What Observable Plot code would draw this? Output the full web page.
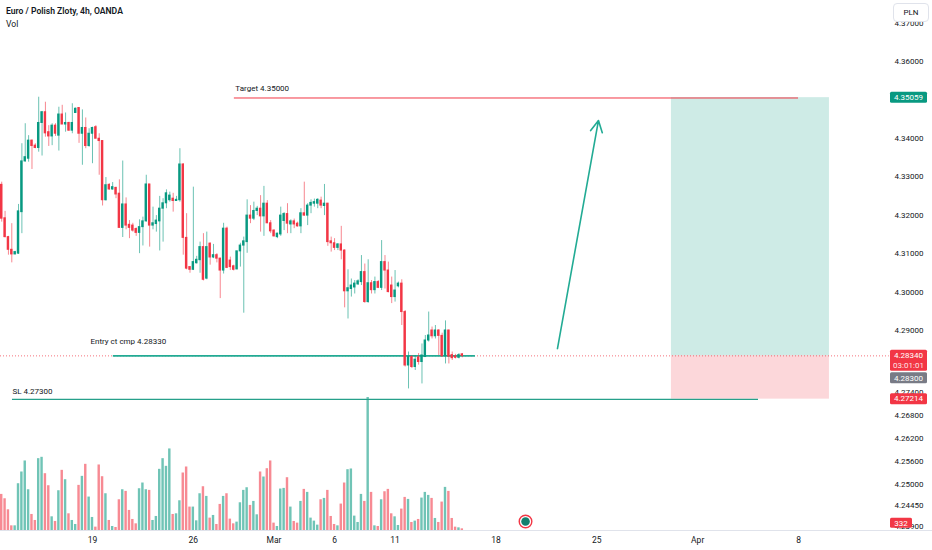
<!DOCTYPE html>
<html><head><meta charset="utf-8">
<script src="https://cdn.jsdelivr.net/npm/d3@7"></script>
<script src="https://cdn.jsdelivr.net/npm/@observablehq/plot@0.6"></script>
<style>
body{margin:0;background:#fff;font-family:Roboto,"Noto Sans",sans-serif;}
#wrap{position:relative;width:932px;height:550px;overflow:hidden;background:#fff;}
#wrap svg{position:absolute;left:0;top:0;}
.t1{position:absolute;left:6px;top:6px;font-size:8.6px;font-weight:600;color:#131722;}
.t2{position:absolute;left:6px;top:19px;font-size:8.6px;color:#131722;}
.sep{position:absolute;left:0;top:530px;width:932px;height:1px;background:#e0e3eb;}
.pln{position:absolute;left:893px;top:3px;width:36px;height:19px;box-sizing:border-box;border:1px solid #e0e3eb;border-radius:4px;background:#fff;font-size:8px;color:#131722;text-align:center;line-height:17px;}
</style></head><body><div id="wrap"></div>
<script>
// ---- data (4h bars, index 0 = Feb 19 00:00) ----
const firstIndex = -27;
const opens = [
4.3279,4.3192,4.3143,4.3110,4.3098,4.3100,4.3208,4.3340,4.3347,4.3394,
4.3381,4.3375,4.3440,4.3468,4.3416,4.3405,4.3433,4.3407,4.3462,4.3436,
4.3440,4.3420,4.3466,4.3479,4.3412,4.3427,4.3380,4.3412,4.3429,4.3399,
4.3393,4.3239,4.3279,4.3267,4.3271,4.3256,4.3167,4.3228,4.3175,4.3173,
4.3164,4.3154,4.3169,4.3184,4.3280,4.3173,4.3177,4.3184,4.3217,4.3231,
4.3239,4.3243,4.3237,4.3239,4.3332,4.3141,4.3065,4.3058,4.3075,4.3083,
4.3117,4.3035,4.3126,4.3090,4.3096,4.3087,4.3056,4.3165,4.3082,4.3067,
4.3059,4.3106,4.3121,4.3130,4.3199,4.3191,4.3211,4.3217,4.3197,4.3230,
4.3179,4.3160,4.3143,4.3150,4.3185,4.3203,4.3176,4.3184,4.3178,4.3171,
4.3205,4.3199,4.3225,4.3230,4.3230,4.3238,4.3224,4.3230,4.3132,4.3127,
4.3115,4.3124,4.3108,4.3002,4.3008,4.3012,4.3020,4.3026,4.3052,4.2974,
4.3023,4.3005,4.3026,4.3011,4.3078,4.3056,4.3017,4.2987,4.3015,4.3022,
4.2948,4.2809,4.2831,4.2805,4.2830,4.2818,4.2831,4.2874,4.2900,4.2885,
4.2900,4.2886,4.2833,4.2900,4.2836,4.2833,4.2829,4.2838];
const highs = [
4.3286,4.3210,4.3145,4.3178,4.3106,4.3228,4.3386,4.3438,4.3407,4.3396,
4.3386,4.3507,4.3470,4.3494,4.3433,4.3438,4.3438,4.3481,4.3486,4.3466,
4.3442,4.3490,4.3479,4.3479,4.3474,4.3453,4.3425,4.3429,4.3433,4.3412,
4.3394,4.3298,4.3282,4.3285,4.3273,4.3292,4.3341,4.3245,4.3186,4.3179,
4.3167,4.3188,4.3195,4.3304,4.3280,4.3221,4.3199,4.3249,4.3243,4.3266,
4.3260,4.3257,4.3249,4.3373,4.3334,4.3204,4.3066,4.3273,4.3093,4.3130,
4.3152,4.3156,4.3128,4.3124,4.3100,4.3088,4.3179,4.3169,4.3091,4.3070,
4.3106,4.3127,4.3143,4.3240,4.3225,4.3234,4.3223,4.3251,4.3275,4.3238,
4.3186,4.3162,4.3153,4.3221,4.3207,4.3230,4.3188,4.3190,4.3182,4.3217,
4.3286,4.3230,4.3240,4.3242,4.3243,4.3247,4.3280,4.3231,4.3143,4.3139,
4.3126,4.3171,4.3110,4.3058,4.3034,4.3030,4.3032,4.3095,4.3073,4.3084,
4.3030,4.3039,4.3030,4.3134,4.3095,4.3078,4.3039,4.3056,4.3026,4.3032,
4.2952,4.2844,4.2835,4.2835,4.2840,4.2865,4.2887,4.2948,4.2909,4.2913,
4.2902,4.2893,4.2925,4.2901,4.2844,4.2838,4.2840,4.2840];
const lows = [
4.3182,4.3141,4.3096,4.3076,4.3097,4.3098,4.3152,4.3338,4.3338,4.3319,
4.3373,4.3364,4.3354,4.3403,4.3379,4.3381,4.3405,4.3367,4.3436,4.3416,
4.3418,4.3412,4.3466,4.3387,4.3330,4.3373,4.3377,4.3334,4.3399,4.3304,
4.3224,4.3237,4.3265,4.3265,4.3243,4.3167,4.3142,4.3162,4.3139,4.3156,
4.3145,4.3100,4.3120,4.3182,4.3117,4.3162,4.3156,4.3107,4.3130,4.3217,
4.3234,4.3208,4.3237,4.3234,4.3096,4.3058,4.3049,4.3056,4.3073,4.3049,
4.3029,4.3032,4.3070,4.3087,4.3076,4.2983,4.3047,4.3061,4.3056,4.3055,
4.3058,4.3065,4.2945,4.3101,4.3178,4.3186,4.3199,4.3156,4.3145,4.3178,
4.3152,4.3143,4.3139,4.3145,4.3160,4.3152,4.3152,4.3165,4.3169,4.3152,
4.3197,4.3173,4.3204,4.3221,4.3217,4.3217,4.3199,4.3119,4.3104,4.3108,
4.3108,4.3084,4.2959,4.2930,4.2987,4.2995,4.3017,4.3017,4.2971,4.2971,
4.2995,4.2995,4.3009,4.3004,4.3008,4.2998,4.2970,4.2974,4.3011,4.2913,
4.2805,4.2748,4.2801,4.2796,4.2810,4.2761,4.2831,4.2870,4.2878,4.2878,
4.2835,4.2830,4.2813,4.2813,4.2822,4.2826,4.2826,4.2829];
const closes = [
4.3191,4.3143,4.3110,4.3098,4.3104,4.3210,4.3340,4.3351,4.3394,4.3380,
4.3375,4.3440,4.3468,4.3413,4.3405,4.3433,4.3412,4.3462,4.3436,4.3440,
4.3420,4.3440,4.3477,4.3412,4.3427,4.3380,4.3412,4.3427,4.3399,4.3393,
4.3239,4.3278,4.3267,4.3273,4.3254,4.3167,4.3228,4.3173,4.3167,4.3160,
4.3154,4.3169,4.3184,4.3280,4.3173,4.3179,4.3186,4.3217,4.3231,4.3257,
4.3251,4.3237,4.3240,4.3332,4.3141,4.3061,4.3058,4.3078,4.3084,4.3117,
4.3032,4.3117,4.3090,4.3096,4.3087,4.3056,4.3165,4.3063,4.3065,4.3058,
4.3106,4.3121,4.3132,4.3199,4.3191,4.3211,4.3217,4.3197,4.3230,4.3179,
4.3158,4.3145,4.3152,4.3199,4.3203,4.3178,4.3184,4.3176,4.3171,4.3205,
4.3199,4.3225,4.3232,4.3234,4.3240,4.3225,4.3230,4.3130,4.3127,4.3115,
4.3124,4.3108,4.3002,4.3010,4.3017,4.3022,4.3028,4.3052,4.2974,4.3023,
4.3005,4.3026,4.3011,4.3078,4.3056,4.3000,4.2987,4.3004,4.3022,4.2948,
4.2809,4.2831,4.2805,4.2824,4.2818,4.2835,4.2874,4.2887,4.2885,4.2900,
4.2886,4.2833,4.2900,4.2832,4.2828,4.2829,4.2836,4.2834];
const volumes = [
7200,6330,4130,930,930,9330,11670,13870,8130,3200,
2000,14330,14600,11330,8930,2730,1800,7930,12000,10130,
3330,2000,1200,9000,10800,13200,6670,2600,670,13070,
10730,7330,2000,800,600,6130,8130,7800,4000,2200,
1330,8330,9470,8130,8000,2000,2800,12200,14330,12800,
16270,3200,3330,5930,11470,12670,4670,4670,1930,7330,
8730,6800,2470,3000,1200,5200,6800,7330,2270,1330,
1670,5530,8000,8530,5000,5800,3130,11670,10670,12330,
13870,1470,800,8270,8400,10530,4670,1800,1470,5800,
8200,7600,2470,1870,1070,6130,6400,8000,2800,1200,
930,5270,9470,12130,12270,2870,1600,7200,5800,26530,
7600,930,800,6130,7730,8200,3330,2730,1000,4270,
6600,6200,1600,1870,2200,6470,7600,7000,6400,2400,
1600,5670,8600,7800,2400,670,530,332];

const timeTicks = [0,30,54,72,90,120,150,180,210];
const timeLabels = ["19","26","Mar","6","11","18","25","Apr","8"];
const priceTicks = [4.37,4.36,4.34,4.33,4.32,4.31,4.30,4.29,4.274,4.268,4.262,4.256,4.25,4.2445,4.239];

// drawings
const targetPrice = 4.3505, targetFrom = 42.2, targetTo = 210;
const entryPrice = 4.2834, entryFrom = 6.2, entryTo = 113.9;
const slPrice = 4.2721, slFrom = -23.8, slTo = 198.1;
const posFrom = 172.2, posTo = 219.2, posTarget = 4.35059, posEntry = 4.2834, posStop = 4.27214;
const arrowFrom = [138.3, 4.2853], arrowTo = [150.5, 4.34465];
const eventIndex = 128.8, eventLevel = 4.2403;
const lastPrice = 4.28340, bidPrice = 4.28300, countdown = "03:01:01";
const targetText = "Target 4.35000", targetTextAt = 42.5;
const entryText = "Entry ct cmp 4.28330", entryTextAt = -0.6;
const slText = "SL 4.27300", slTextAt = -23.8;

// ---- build ----
const candles = opens.map((o, j) => ({i: firstIndex + j, o, h: highs[j], l: lows[j], c: closes[j], v: volumes[j]}));
const up = "#089981", down = "#f23645";
const col = d => d.c >= d.o ? up : down;
const W = 932, H = 550;
const xDomain = [-27.36, 227.84];
const yDomain = [4.23796, 4.37587];
const rightEdgeIndex = 237;

const wrap = document.getElementById("wrap");

const volPlot = Plot.plot({
  width: W, height: H, marginTop: 397, marginBottom: 20, marginLeft: 0, marginRight: 74,
  style: {background: "transparent"},
  x: {domain: xDomain, axis: null},
  y: {domain: [0, d3.max(volumes)], axis: null},
  marks: [
    Plot.rect(candles, {x1: d => d.i - 0.36, x2: d => d.i + 0.36, y1: 0, y2: "v", fill: col, fillOpacity: 0.58})
  ]
});
wrap.appendChild(volPlot);

const txt = {textAnchor: "start", fontSize: 8, fill: "#131722"};
const pricePlot = Plot.plot({
  width: W, height: H, marginTop: 0, marginBottom: 20, marginLeft: 0, marginRight: 74,
  style: {background: "transparent", fontFamily: "Roboto, sans-serif"},
  x: {domain: xDomain},
  y: {domain: yDomain},
  marks: [
    Plot.rect([{a: posFrom, b: posTo, p1: posEntry, p2: posTarget}], {x1: "a", x2: "b", y1: "p1", y2: "p2", fill: up, fillOpacity: 0.2}),
    Plot.rect([{a: posFrom, b: posTo, p1: posStop, p2: posEntry}], {x1: "a", x2: "b", y1: "p1", y2: "p2", fill: down, fillOpacity: 0.2}),
    Plot.ruleY([lastPrice], {x1: xDomain[0], x2: rightEdgeIndex, stroke: down, strokeOpacity: 0.7, strokeDasharray: "1,2", strokeWidth: 1}),
    Plot.ruleY([targetPrice], {x1: targetFrom, x2: targetTo, stroke: down, strokeWidth: 1}),
    Plot.ruleY([slPrice], {x1: slFrom, x2: slTo, stroke: "#26a08a", strokeWidth: 1.2}),
    Plot.ruleY([entryPrice], {x1: entryFrom, x2: entryTo, stroke: "#22ab94", strokeWidth: 1.8}),
    Plot.ruleX(candles, {x: "i", y1: "l", y2: "h", stroke: col, strokeOpacity: 0.6, strokeWidth: 1}),
    Plot.rect(candles, {x1: d => d.i - 0.36, x2: d => d.i + 0.36, y1: "o", y2: "c", fill: col, insetTop: -0.5, insetBottom: -0.5}),
    Plot.arrow([{x1: arrowFrom[0], y1: arrowFrom[1], x2: arrowTo[0], y2: arrowTo[1]}], {x1: "x1", y1: "y1", x2: "x2", y2: "y2", stroke: "#22ab94", strokeWidth: 1.6, headLength: 12, headAngle: 55}),
    Plot.text([{x: targetTextAt, y: targetPrice, t: targetText}], {x: "x", y: "y", text: "t", dy: -10, ...txt}),
    Plot.text([{x: entryTextAt, y: entryPrice, t: entryText}], {x: "x", y: "y", text: "t", dy: -14, ...txt}),
    Plot.text([{x: slTextAt, y: slPrice, t: slText}], {x: "x", y: "y", text: "t", dy: -8, ...txt}),
    Plot.dot([{i: eventIndex, p: eventLevel}], {x: "i", y: "p", r: 6.3, fill: "#fff", stroke: down, strokeWidth: 1.4}),
    Plot.dot([{i: eventIndex, p: eventLevel}], {x: "i", y: "p", r: 4.3, fill: "#12806e"}),
    Plot.axisY(priceTicks, {anchor: "right", tickSize: 0, tickPadding: 36, tickFormat: d => d.toFixed(5), fontSize: 8, color: "#131722", label: null}),
    Plot.axisX(timeTicks, {anchor: "bottom", tickSize: 0, tickPadding: 6, tickFormat: d => timeLabels[timeTicks.indexOf(d)], fontSize: 8.5, color: "#131722", label: null})
  ]
});
wrap.appendChild(pricePlot);

// price tags on the right scale
const ys = pricePlot.scale("y");
const vs = volPlot.scale("y");
const svg = d3.select(pricePlot);
function tag(top, h, fill, lines, x0 = 890, w = 37) {
  const g = svg.append("g");
  g.append("rect").attr("x", x0).attr("y", top).attr("width", w).attr("height", h).attr("fill", fill).attr("rx", 1.5);
  lines.forEach((t, k) => g.append("text").attr("x", x0 + w / 2).attr("y", top + 5.5 + k * 10)
    .attr("dy", "0.35em").attr("text-anchor", "middle").attr("fill", "#fff")
    .attr("fill-opacity", k ? 0.9 : 1).attr("font-size", 8).attr("font-family", "Roboto, sans-serif").text(t));
}
tag(ys.apply(posTarget) - 5.5, 11, up, [posTarget.toFixed(5)]);
const lastTop = ys.apply(lastPrice) - 5.5;
tag(lastTop, 21, down, [lastPrice.toFixed(5), countdown]);
tag(lastTop + 22.5, 11, "#787b86", [bidPrice.toFixed(5)]);
tag(ys.apply(posStop) - 5.5, 11, down, [posStop.toFixed(5)]);
const lastVol = volumes[volumes.length - 1];
tag(Math.min(vs.apply(lastVol), 530) - 10.5, 10, down, [String(lastVol)], 890, 22);

// header
const t1 = document.createElement("div"); t1.className = "t1"; t1.textContent = "Euro / Polish Zloty, 4h, OANDA"; wrap.appendChild(t1);
const t2 = document.createElement("div"); t2.className = "t2"; t2.textContent = "Vol"; wrap.appendChild(t2);
const sep = document.createElement("div"); sep.className = "sep"; wrap.appendChild(sep);
const pln = document.createElement("div"); pln.className = "pln"; pln.textContent = "PLN"; wrap.appendChild(pln);
</script>
</body></html>
